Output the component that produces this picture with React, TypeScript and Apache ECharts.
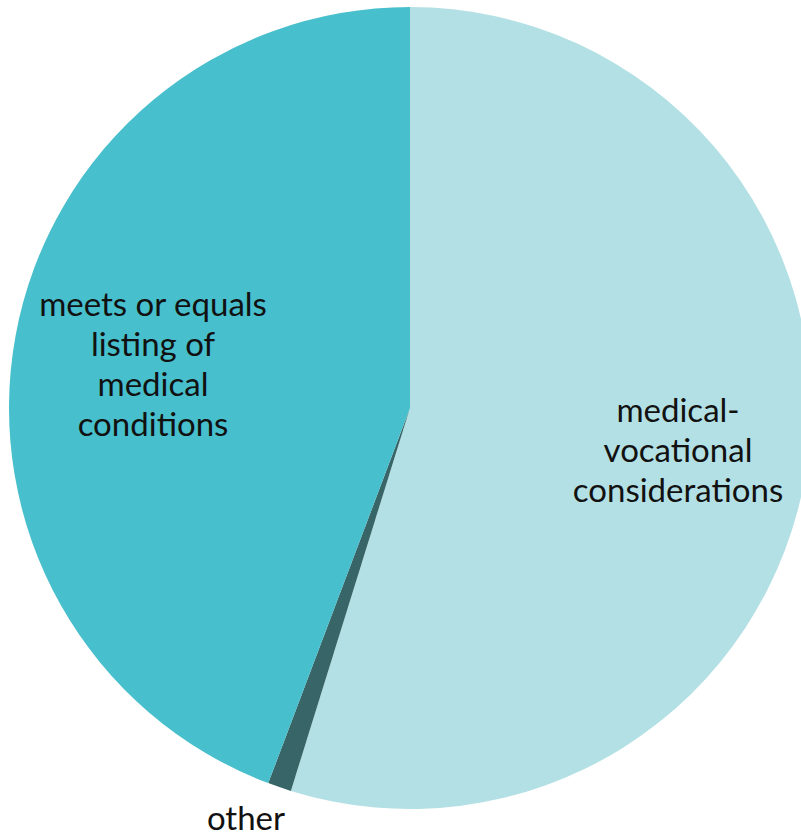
import React, { useEffect, useRef } from "react";
import * as echarts from "echarts";

const categories = [
  "medical-\nvocational\nconsiderations",
  "other",
  "meets or equals\nlisting of\nmedical\nconditions",
];
const values = [54.8, 0.95, 44.25];
const colors = ["#b3e0e4", "#386567", "#47bfcc"];
const labelPos = [
  [678, 449],
  [246, 817],
  [153, 363],
];

export default function App() {
  const ref = useRef<HTMLDivElement>(null);
  useEffect(() => {
    const chart = echarts.init(ref.current!, null, { renderer: "svg" });
    chart.setOption({
      animation: false,
      series: [
        {
          type: "pie",
          center: [410, 408],
          radius: 401,
          startAngle: 90,
          clockwise: true,
          data: categories.map((c, i) => ({
            name: c,
            value: values[i],
            itemStyle: { color: colors[i] },
          })),
          label: {
            show: true,
            position: "inside",
            formatter: "{b}",
            color: "#111",
            fontFamily: "Lato",
            fontSize: 33,
            lineHeight: 40,
            align: "center",
          },
          labelLine: { show: false },
          labelLayout: (p: any) => ({
            x: labelPos[p.dataIndex][0],
            y: labelPos[p.dataIndex][1],
            align: "center",
            verticalAlign: "middle",
          }),
        },
      ],
    });
    return () => chart.dispose();
  }, []);
  return (
    <div
      ref={ref}
      style={{ position: "fixed", left: 0, top: 0, width: 801, height: 836, background: "#fff" }}
    />
  );
}
